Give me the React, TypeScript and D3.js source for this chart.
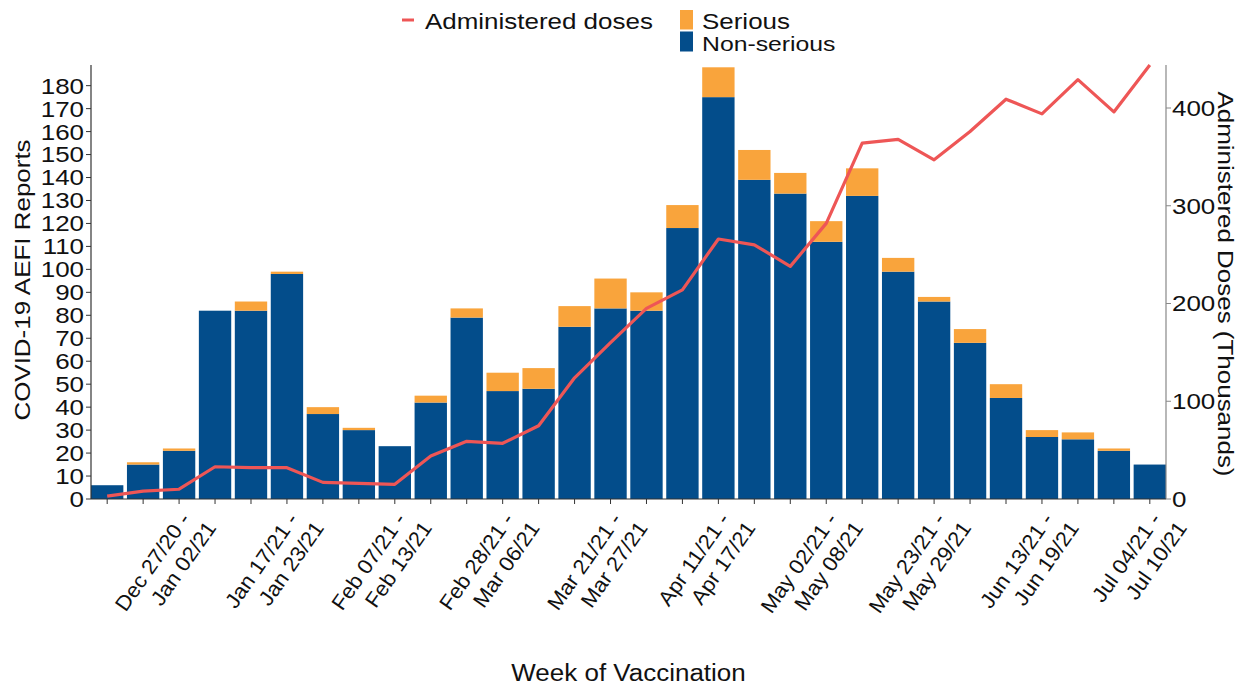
import React from 'react';
import * as d3 from 'd3';

// weekly AEFI reports and doses administered
const weeks = [
  'Dec 13/20 - Dec 19/20', 'Dec 20/20 - Dec 26/20', 'Dec 27/20 - Jan 02/21',
  'Jan 03/21 - Jan 09/21', 'Jan 10/21 - Jan 16/21', 'Jan 17/21 - Jan 23/21',
  'Jan 24/21 - Jan 30/21', 'Jan 31/21 - Feb 06/21', 'Feb 07/21 - Feb 13/21',
  'Feb 14/21 - Feb 20/21', 'Feb 21/21 - Feb 27/21', 'Feb 28/21 - Mar 06/21',
  'Mar 07/21 - Mar 13/21', 'Mar 14/21 - Mar 20/21', 'Mar 21/21 - Mar 27/21',
  'Mar 28/21 - Apr 03/21', 'Apr 04/21 - Apr 10/21', 'Apr 11/21 - Apr 17/21',
  'Apr 18/21 - Apr 24/21', 'Apr 25/21 - May 01/21', 'May 02/21 - May 08/21',
  'May 09/21 - May 15/21', 'May 16/21 - May 22/21', 'May 23/21 - May 29/21',
  'May 30/21 - Jun 05/21', 'Jun 06/21 - Jun 12/21', 'Jun 13/21 - Jun 19/21',
  'Jun 20/21 - Jun 26/21', 'Jun 27/21 - Jul 03/21', 'Jul 04/21 - Jul 10/21',
];
const nonSerious = [6, 15, 21, 82, 82, 98, 37, 30, 23, 42, 79, 47, 48, 75, 83, 82, 118, 175, 139, 133, 112, 132, 99, 86, 68, 44, 27, 26, 21, 15];
const serious = [0, 1, 1, 0, 4, 1, 3, 1, 0, 3, 4, 8, 9, 9, 13, 8, 10, 13, 13, 9, 9, 12, 6, 2, 6, 6, 3, 3, 1, 0];
const doses = [3, 8, 10, 33, 32, 32, 17, 16, 15, 44, 59, 57, 75, 124, 160, 195, 214, 266, 260, 238, 282, 364, 368, 347, 376, 409, 394, 429, 396, 444];
const shownWeeks = weeks.filter((_, i) => i % 3 === 2);
const leftTicks = [0, 10, 20, 30, 40, 50, 60, 70, 80, 90, 100, 110, 120, 130, 140, 150, 160, 170, 180];
const rightTicks = [0, 100, 200, 300, 400];

const W = 1241;
const H = 685;
const plot = { left: 91, right: 1166, top: 65, bottom: 499 };
const FONT = '"Liberation Sans", Arial, sans-serif';
const SX = 1.18; // text in the source is rendered wide
const BLUE = '#034d8b';
const ORANGE = '#f9a43c';
const RED = '#ee5656';
const ANGLE = 55;

const App: React.FC = () => {
  const x = d3.scaleBand<string>()
    .domain(weeks)
    .range([plot.left, plot.right])
    .paddingInner(0.1)
    .paddingOuter(0);
  const yL = d3.scaleLinear().domain([0, 189]).range([plot.bottom, plot.top]);
  const yR = d3.scaleLinear().domain([0, 444]).range([plot.bottom, plot.top]);

  const rows = weeks.map((w, i) => ({ week: w, nonSerious: nonSerious[i], serious: serious[i] }));
  const stacked = d3.stack<any>().keys(['nonSerious', 'serious'])(rows);
  const colors: Record<string, string> = { nonSerious: BLUE, serious: ORANGE };

  const cx = (w: string) => (x(w) as number) + x.bandwidth() / 2;
  const line = d3.line<number>()
    .x((_, i) => cx(weeks[i]))
    .y(d => yR(d));

  const lh = 26;
  const lsx = 1.05;

  return (
    <svg width={W} height={H} style={{ position: 'absolute', left: 0, top: 0, background: '#fff' }} fontFamily={FONT}>
      {/* bars */}
      {stacked.map(layer => (
        <g key={layer.key} fill={colors[layer.key]}>
          {layer.map((d, i) => (
            <rect
              key={i}
              x={x(weeks[i])}
              width={x.bandwidth()}
              y={yL(d[1])}
              height={Math.max(0, yL(d[0]) - yL(d[1]))}
            />
          ))}
        </g>
      ))}

      {/* doses line */}
      <path d={line(doses) || ''} fill="none" stroke={RED} strokeWidth={3.2} strokeLinejoin="round" />

      {/* left axis */}
      <line x1={plot.left} x2={plot.left} y1={plot.top} y2={plot.bottom} stroke="#333" strokeWidth={1.2} />
      {leftTicks.map(t => (
        <g key={t} transform={`translate(0,${yL(t)})`}>
          <line x1={plot.left - 5} x2={plot.left} stroke="#333" />
          <text transform={`translate(84,0) scale(${SX},1)`} dy="0.36em" textAnchor="end" fontSize={22} fill="#111">{t}</text>
        </g>
      ))}

      {/* right axis */}
      <line x1={plot.right} x2={plot.right} y1={plot.top} y2={plot.bottom} stroke="#888" strokeWidth={1.2} />
      {rightTicks.map(t => (
        <g key={t} transform={`translate(${plot.right},${yR(t)})`}>
          <line x1={0} x2={5} stroke="#888" />
          <text transform={`translate(6,0) scale(${SX},1)`} dy="0.36em" fontSize={22} fill="#111">{t}</text>
        </g>
      ))}

      {/* bottom axis */}
      <line x1={plot.left} x2={plot.right} y1={plot.bottom} y2={plot.bottom} stroke="#333" strokeWidth={1.2} />
      {weeks.map(w => (
        <line key={w} x1={cx(w)} x2={cx(w)} y1={plot.bottom} y2={plot.bottom + 5} stroke="#333" />
      ))}
      {shownWeeks.map(w => {
        const [a, b] = w.split(' - ');
        return (
          <g key={w} transform={`translate(${cx(w) + 16.6},513) rotate(${-ANGLE})`} fontSize={21} fill="#111">
            <text transform={`scale(${lsx},1)`} x={-8 / lsx} y={0} textAnchor="end">{a + ' -'}</text>
            <text transform={`scale(${lsx},1)`} x={0} y={lh} textAnchor="end">{b}</text>
          </g>
        );
      })}

      {/* axis titles */}
      <text transform={`translate(${(plot.left + plot.right) / 2},681) scale(1.13,1)`} textAnchor="middle" fontSize={23} fill="#111">
        Week of Vaccination
      </text>
      <text transform={`translate(30,280) rotate(-90) scale(${SX},1)`} textAnchor="middle" fontSize={22} fill="#111">
        COVID-19 AEFI Reports
      </text>
      <text transform={`translate(1218,284) rotate(90) scale(${SX},1)`} textAnchor="middle" fontSize={22} fill="#111">
        Administered Doses (Thousands)
      </text>

      {/* legend */}
      <line x1={402} x2={414} y1={20} y2={20} stroke={RED} strokeWidth={3} />
      <text transform={`translate(425,29) scale(${SX},1)`} fontSize={22} fill="#111">Administered doses</text>
      <rect x={680} y={10} width={13} height={19.5} fill={ORANGE} />
      <rect x={680} y={31.5} width={13} height={20} fill={BLUE} />
      <text transform={`translate(702,29) scale(${SX},1)`} fontSize={22} fill="#111">Serious</text>
      <text transform={`translate(702,50.5) scale(${SX},1)`} fontSize={21} fill="#111">Non-serious</text>
    </svg>
  );
};

export default App;
